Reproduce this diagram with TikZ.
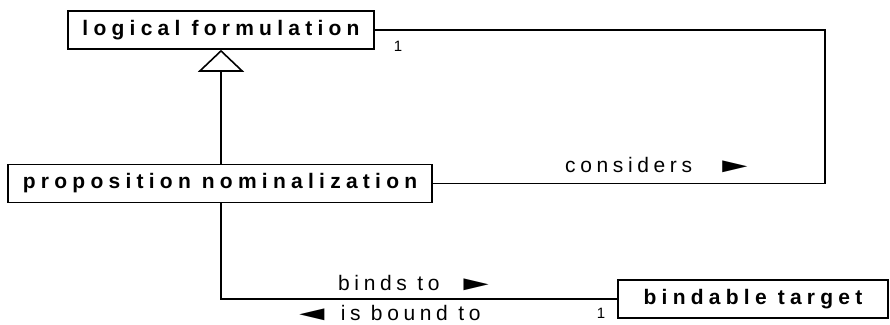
\documentclass[tikz,border=0pt]{standalone}
\usepackage{fontspec}
\setmainfont{Liberation Sans}
\newfontfamily\clasefont[LetterSpace=25]{Liberation Sans}
\newfontfamily\rolfont[LetterSpace=22]{Liberation Sans}
\usetikzlibrary{arrows.meta}
\newcommand\flechader{\scalebox{2}[0.95]{►}}
\newcommand\flechaizq{\scalebox{2}[0.95]{◄}}
\begin{document}
\begin{tikzpicture}[x=1pt,y=-1pt]
\tikzstyle{clase}=[draw,line width=1.6pt,inner sep=0pt,minimum height=38pt,font=\clasefont\bfseries\fontsize{21}{24}\selectfont]% caja de cada clase
\tikzstyle{rol}=[anchor=west,inner sep=0pt,font=\rolfont\fontsize{21}{24}\selectfont]% nombre de la asociacion
\tikzstyle{mult}=[inner sep=0pt,font=\fontsize{15}{17}\selectfont]% multiplicidad
\tikzstyle{enlace}=[line width=1.6pt]
\useasboundingbox (0,0) rectangle (890,324);
\node[clase,minimum width=306pt] (logica) at (221,30) {logical formulation};%clase padre
\node[clase,minimum width=424pt] (prop) at (220,183.5) {proposition nominalization};
\node[clase,minimum width=270pt] (blanco) at (753,299) {bindable target};
\coordinate (esq) at (825,30);% esquina de considers
\draw[enlace,-{Triangle[open,length=22pt,width=46pt]}] (prop.north -| logica.south) -- (logica.south);% herencia
\draw[enlace] (logica.east) -- (esq) |- (prop.east);
\draw[enlace] (prop.south -| logica.south) |- (blanco.west);
\node[mult] (m1) at (398,46) {1};
\node[mult] (m2) at (601,313) {1};
\node[rol] (considera) at (565,165) {considers\hspace{22pt}\flechader};
\node[rol] (liga) at (338,283) {binds to\hspace{16pt}\flechader};
\node[rol] (ligado) at (291,313) {\flechaizq\hspace{8pt}is bound to};
\end{tikzpicture}
\end{document}
